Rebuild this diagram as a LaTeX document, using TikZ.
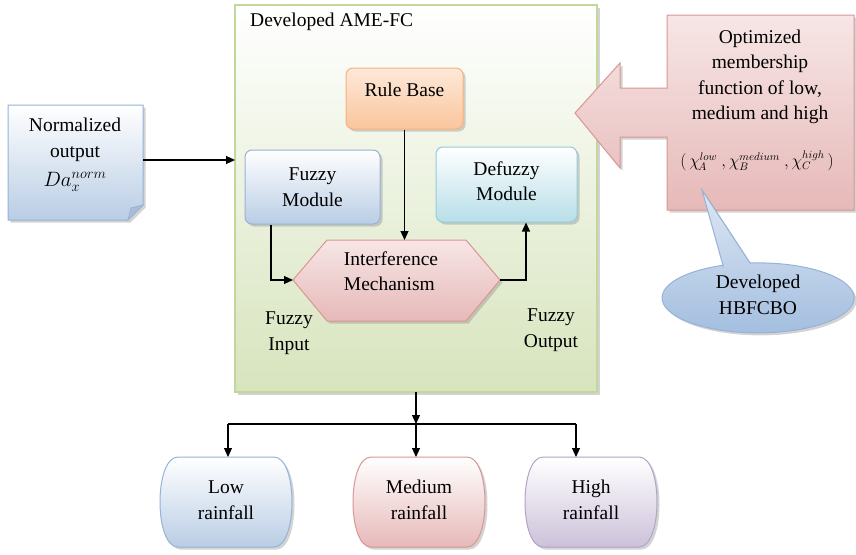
\documentclass[tikz,border=0pt]{standalone}
\usepackage{fontspec}
\setmainfont{Liberation Serif}
\usetikzlibrary{arrows.meta,shadows}
\definecolor{gbord}{HTML}{C3D69B}
\definecolor{gbot}{HTML}{D7E4BD}
\definecolor{bbord}{HTML}{95B3D7}
\definecolor{bbot}{HTML}{B9CDE5}
\definecolor{cbord}{HTML}{93CDDD}
\definecolor{cbot}{HTML}{B7DEE8}
\definecolor{obord}{HTML}{F9B27C}
\definecolor{otop}{HTML}{FDE9DA}
\definecolor{obot}{HTML}{FAC59C}
\definecolor{pbord}{HTML}{D99694}
\definecolor{pbot}{HTML}{E6B9B8}
\definecolor{ptop}{HTML}{F7E6E6}
\definecolor{vbord}{HTML}{B3A2C7}
\definecolor{vbot}{HTML}{CCC1DA}
\definecolor{etop}{HTML}{DDE7F3}
\definecolor{ebot}{HTML}{A3BEDF}
\tikzset{
  txt/.style={font=\fontsize{19.5}{25.5}\selectfont, align=center, inner sep=0pt},
  shad/.style={drop shadow={shadow xshift=2.5pt, shadow yshift=-2.5pt, opacity=0.35, fill=gray}},
  rbox/.style={rounded corners=7pt, line width=1pt, shad},
  conn/.style={line width=1.1pt, -{Triangle[length=9pt,width=8pt]}},
  plain/.style={line width=1.1pt}
}
\begin{document}
\begin{tikzpicture}[x=1pt,y=-1pt]
\useasboundingbox (0,0) rectangle (856,554);
% big green container
\path[draw=gbord, line width=1.2pt, top color=white, bottom color=gbot, shad] (235,5) rectangle (597,392);
\node[txt, anchor=west] (ame) at (250,22) {Developed AME-FC};
\coordinate (ameb) at (416,392);
\coordinate (amew) at (235,160);
% rule base
\node[rbox, draw=obord, top color=otop, bottom color=obot, minimum width=117pt, minimum height=61pt] (rule) at (404.5,98.5) {};
\node[txt] (ruletxt) at (404.5,90) {Rule Base};
% fuzzy module
\node[txt, rbox, draw=bbord, top color=white, bottom color=bbot, minimum width=135pt, minimum height=74pt] (fuzzy) at (312.5,187) {Fuzzy\\Module};
% defuzzy module
\node[rbox, draw=cbord, top color=white, bottom color=cbot, minimum width=141pt, minimum height=75pt] (defuzzy) at (506.5,184.5) {};
\node[txt] (defuzzytxt) at (506.5,181) {Defuzzy\\Module};
% hexagon
\path[draw=pbord, line width=1pt, top color=ptop, bottom color=pbot, shad]
  (293,280) -- (327,240) -- (466,240) -- (500,280) -- (466,321) -- (327,321) -- cycle;
\node[txt, align=left] (hex) at (391,271) {Interference\\Mechanism};
\coordinate (hexw) at (293,280);
\coordinate (hexe) at (500,280);
\coordinate (hexn) at (404.5,240);
% labels
\node[txt] (fin) at (289,333) {Fuzzy\\Input};
\node[txt] (fout) at (551,330) {Fuzzy\\Output};
% inner connectors
\draw[conn] (rule.south) -- (hexn);
\draw[conn] (fuzzy.south -| 271,0) |- (hexw);
\draw[conn] (hexe) -| (defuzzy.south -| 526,0);
% normalized output note
\path[draw=bbord, line width=1pt, top color=white, bottom color=bbot, shad]
  (8,105) -- (143,105) -- (143,205) -- (128,220) -- (8,220) -- cycle;
\path[draw=bbord, line width=0.8pt, fill=bbot!80!gray] (128,220) -- (131,208) -- (143,205) -- cycle;
\node[txt] (norm) at (75,140) {Normalized\\output};
\node[txt] (normf) at (75,182) {$Da_x^{norm}$};
\coordinate (normE) at (143,160);
\draw[conn] (normE) -- (amew);
% block arrow callout
\path[draw=pbord, line width=1pt, top color=ptop, bottom color=pbot, shad]
  (667,15) -- (854,15) -- (854,210) -- (667,210) -- (667,137) -- (620,137) -- (620,168)
  -- (575,113) -- (620,63) -- (620,88) -- (667,88) -- cycle;
\node[txt] (opt) at (760,77) {Optimized\\membership\\function of low,\\medium and high};
\node[inner sep=0pt, font=\fontsize{16}{18}\selectfont] (chi) at (757,161) {$(\,\chi_{\!A}^{low}\ ,\chi_B^{medium}\ ,\chi_C^{high}\,)$};
% ellipse callout
\path[draw=bbord, line width=1pt, top color=etop, bottom color=ebot, shad]
  (723,265.4) -- (702,190) -- (750,263)
  arc[start angle=94.8, end angle=-248.6, x radius=96pt, y radius=35pt] -- cycle;
\node[txt] (hb) at (758,295) {Developed\\HBFCBO};
% output split
\coordinate (split) at (416,424);
\coordinate (sl) at (228,424);
\coordinate (sr) at (576,424);
\draw[conn] (ameb) -- (split);
\draw[plain] (sl) -- (sr);
% bottom boxes
\path[draw=bbord, line width=1pt, top color=white, bottom color=bbot, shad]
  (178,457) -- (274,457) .. controls (298,457) and (298,547) .. (274,547) -- (178,547) .. controls (154,547) and (154,457) .. (178,457) -- cycle;
\node[txt] (low) at (226,500) {Low\\rainfall};
\path[draw=pbord, line width=1pt, top color=white, bottom color=pbot, shad]
  (371,457) -- (467,457) .. controls (491,457) and (491,547) .. (467,547) -- (371,547) .. controls (347,547) and (347,457) .. (371,457) -- cycle;
\node[txt] (med) at (419,500) {Medium\\rainfall};
\path[draw=vbord, line width=1pt, top color=white, bottom color=vbot, shad]
  (543,457) -- (639,457) .. controls (663,457) and (663,547) .. (639,547) -- (543,547) .. controls (519,547) and (519,457) .. (543,457) -- cycle;
\node[txt] (high) at (591,500) {High\\rainfall};
\coordinate (lowt) at (228,457);
\coordinate (medt) at (416,457);
\coordinate (hight) at (576,457);
\draw[conn] (sl) -- (lowt);
\draw[conn] (split) -- (medt);
\draw[conn] (sr) -- (hight);
\end{tikzpicture}
\end{document}
